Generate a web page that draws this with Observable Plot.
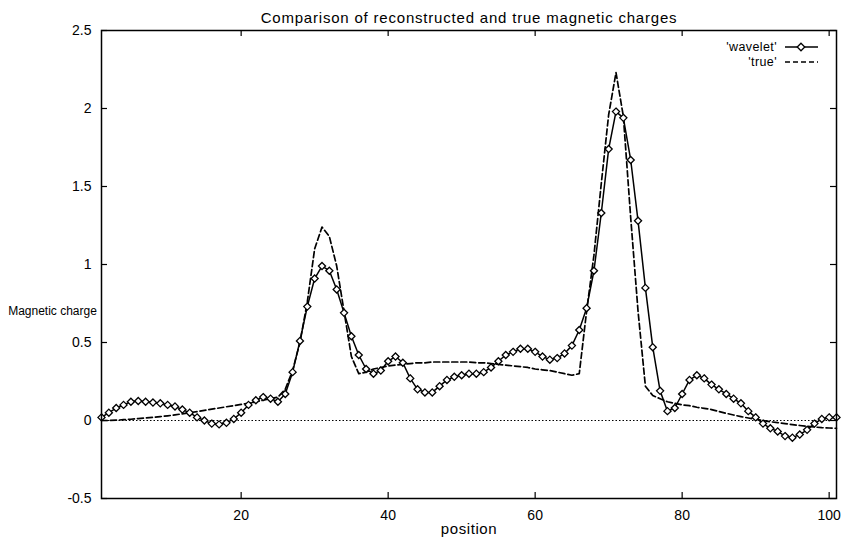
<!DOCTYPE html>
<html>
<head>
<meta charset="utf-8">
<script src="https://cdn.jsdelivr.net/npm/d3@7"></script>
<script src="https://cdn.jsdelivr.net/npm/@observablehq/plot@0.6"></script>
<style>
  html, body { margin: 0; padding: 0; background: #fff; }
  #chart { width: 841px; height: 545px; }
</style>
</head>
<body>
<div id="chart"></div>
<script>
// ---- data ----
const titleText = "Comparison of reconstructed and true magnetic charges";
const xLabel = "position";
const yLabel = "Magnetic charge";
const seriesNames = ["'wavelet'", "'true'"];
const xTicks = [20, 40, 60, 80, 100];
const yTicks = [-0.5, 0, 0.5, 1, 1.5, 2, 2.5];
const xDomain = [1, 101];
const yDomain = [-0.5, 2.5];

const positions = d3.range(1, 102);

const wavelet = [
  0.02, 0.05, 0.08, 0.10, 0.12, 0.125, 0.12, 0.115, 0.11, 0.10,
  0.09, 0.07, 0.05, 0.02, 0.00, -0.02, -0.025, -0.015, 0.01, 0.05,
  0.10, 0.13, 0.15, 0.14, 0.12, 0.17, 0.31, 0.51, 0.73, 0.91,
  0.99, 0.96, 0.84, 0.69, 0.54, 0.42, 0.33, 0.30, 0.32, 0.38,
  0.41, 0.37, 0.27, 0.20, 0.18, 0.18, 0.22, 0.26, 0.28, 0.29,
  0.30, 0.30, 0.31, 0.34, 0.38, 0.42, 0.44, 0.46, 0.46, 0.44,
  0.41, 0.39, 0.40, 0.43, 0.48, 0.58, 0.72, 0.96, 1.33, 1.74,
  1.98, 1.94, 1.67, 1.28, 0.85, 0.47, 0.19, 0.06, 0.08, 0.17,
  0.26, 0.29, 0.27, 0.23, 0.20, 0.17, 0.14, 0.11, 0.06, 0.02,
  -0.02, -0.05, -0.07, -0.10, -0.11, -0.09, -0.06, -0.02, 0.01, 0.02,
  0.02
];

const truth = [
  0.000, 0.000, 0.002, 0.005, 0.008, 0.012, 0.016, 0.020, 0.025, 0.030,
  0.036, 0.043, 0.050, 0.057, 0.065, 0.073, 0.080, 0.088, 0.095, 0.103,
  0.110, 0.120, 0.130, 0.140, 0.150, 0.200, 0.320, 0.500, 0.760, 1.100,
  1.240, 1.180, 0.990, 0.700, 0.410, 0.300, 0.310, 0.330, 0.340, 0.350,
  0.355, 0.360, 0.365, 0.370, 0.370, 0.375, 0.375, 0.375, 0.375, 0.375,
  0.375, 0.370, 0.370, 0.365, 0.360, 0.355, 0.350, 0.345, 0.340, 0.330,
  0.325, 0.320, 0.310, 0.300, 0.290, 0.300, 0.700, 1.060, 1.520, 1.960,
  2.230, 1.950, 1.300, 0.700, 0.220, 0.160, 0.140, 0.120, 0.110, 0.100,
  0.095, 0.085, 0.078, 0.070, 0.058, 0.046, 0.035, 0.025, 0.016, 0.008,
  0.000, -0.008, -0.014, -0.020, -0.026, -0.032, -0.037, -0.042, -0.046, -0.048,
  -0.050
];

// ---- layout ----
const W = 841, H = 545;
const mL = 101, mR = 5, mT = 30, mB = 47;
const frameW = W - mL - mR, frameH = H - mT - mB;
const tickLen = 6;
const font = "'Liberation Sans', Arial, Helvetica, sans-serif";

const data = positions.map((p, i) => ({pos: p, wavelet: wavelet[i], truth: truth[i]}));

function legend(index, scales, values, dims) {
  const right = dims.width - dims.marginRight;
  const top = dims.marginTop;
  const g = d3.create("svg:g").attr("font-family", font).attr("font-size", 12.5);
  const rows = [
    {name: seriesNames[0], dash: null, marker: true, dy: 17},
    {name: seriesNames[1], dash: "5,3", marker: false, dy: 32}
  ];
  for (const r of rows) {
    const y = top + r.dy;
    g.append("text").attr("x", right - 59).attr("y", y).attr("dy", "0.35em")
      .attr("text-anchor", "end").attr("fill", "black").attr("letter-spacing", "0.4px").text(r.name);
    g.append("line").attr("x1", right - 51).attr("x2", right - 18)
      .attr("y1", y).attr("y2", y).attr("stroke", "black")
      .attr("stroke-width", 1.5).attr("stroke-dasharray", r.dash);
    if (r.marker) {
      g.append("path").attr("transform", `translate(${right - 35},${y})`)
        .attr("d", d3.symbol(d3.symbolDiamond2, 36)())
        .attr("fill", "white").attr("stroke", "black").attr("stroke-width", 1.3);
    }
  }
  return g.node();
}

const chart = Plot.plot({
  width: W,
  height: H,
  marginLeft: mL,
  marginRight: mR,
  marginTop: mT,
  marginBottom: mB,
  style: {fontFamily: font, fontSize: "13px", color: "black", background: "white"},
  x: {domain: xDomain},
  y: {domain: yDomain},
  marks: [
    Plot.ruleY([0], {stroke: "black", strokeWidth: 1, strokeDasharray: "1.5,2"}),
    Plot.line(data, {x: "pos", y: "truth", stroke: "black", strokeWidth: 1.7, strokeDasharray: "6,3"}),
    Plot.line(data, {x: "pos", y: "wavelet", stroke: "black", strokeWidth: 1.5}),
    Plot.dot(data, {x: "pos", y: "wavelet", symbol: "diamond2", r: 3.2, fill: "white", stroke: "black", strokeWidth: 1.3}),
    Plot.tickX(xTicks, {x: d => d, stroke: "black", strokeWidth: 1.2, insetTop: frameH - tickLen}),
    Plot.tickX(xTicks, {x: d => d, stroke: "black", strokeWidth: 1.2, insetBottom: frameH - tickLen}),
    Plot.tickY(yTicks, {y: d => d, stroke: "black", strokeWidth: 1.2, insetRight: frameW - tickLen}),
    Plot.tickY(yTicks, {y: d => d, stroke: "black", strokeWidth: 1.2, insetLeft: frameW - tickLen}),
    Plot.frame({stroke: "black", strokeWidth: 1.5}),
    Plot.axisX({ticks: xTicks, tickSize: 0, tickPadding: 12, label: null, fontSize: 14, tickFormat: d => String(d)}),
    Plot.axisY({ticks: yTicks, tickSize: 0, tickPadding: 10, label: null, fontSize: 14, tickFormat: d => String(d)}),
    Plot.text([titleText], {frameAnchor: "top", dy: -18, text: d => d, fontSize: 15, fill: "black"}),
    Plot.text([xLabel], {frameAnchor: "bottom", dy: 35, text: d => d, fontSize: 15, fill: "black"}),
    Plot.text([yLabel], {frameAnchor: "left", dx: -49, dy: 47, textAnchor: "middle", text: d => d, fontSize: 12, fill: "black"}),
    legend
  ]
});

// letter spacing to match the wide print of the original
d3.select(chart).selectAll("text")
  .filter(function() { return this.textContent === titleText; })
  .attr("letter-spacing", "0.8px");
d3.select(chart).selectAll("text")
  .filter(function() { return this.textContent === xLabel; })
  .attr("letter-spacing", "0.6px");

document.getElementById("chart").appendChild(chart);
</script>
</body>
</html>
